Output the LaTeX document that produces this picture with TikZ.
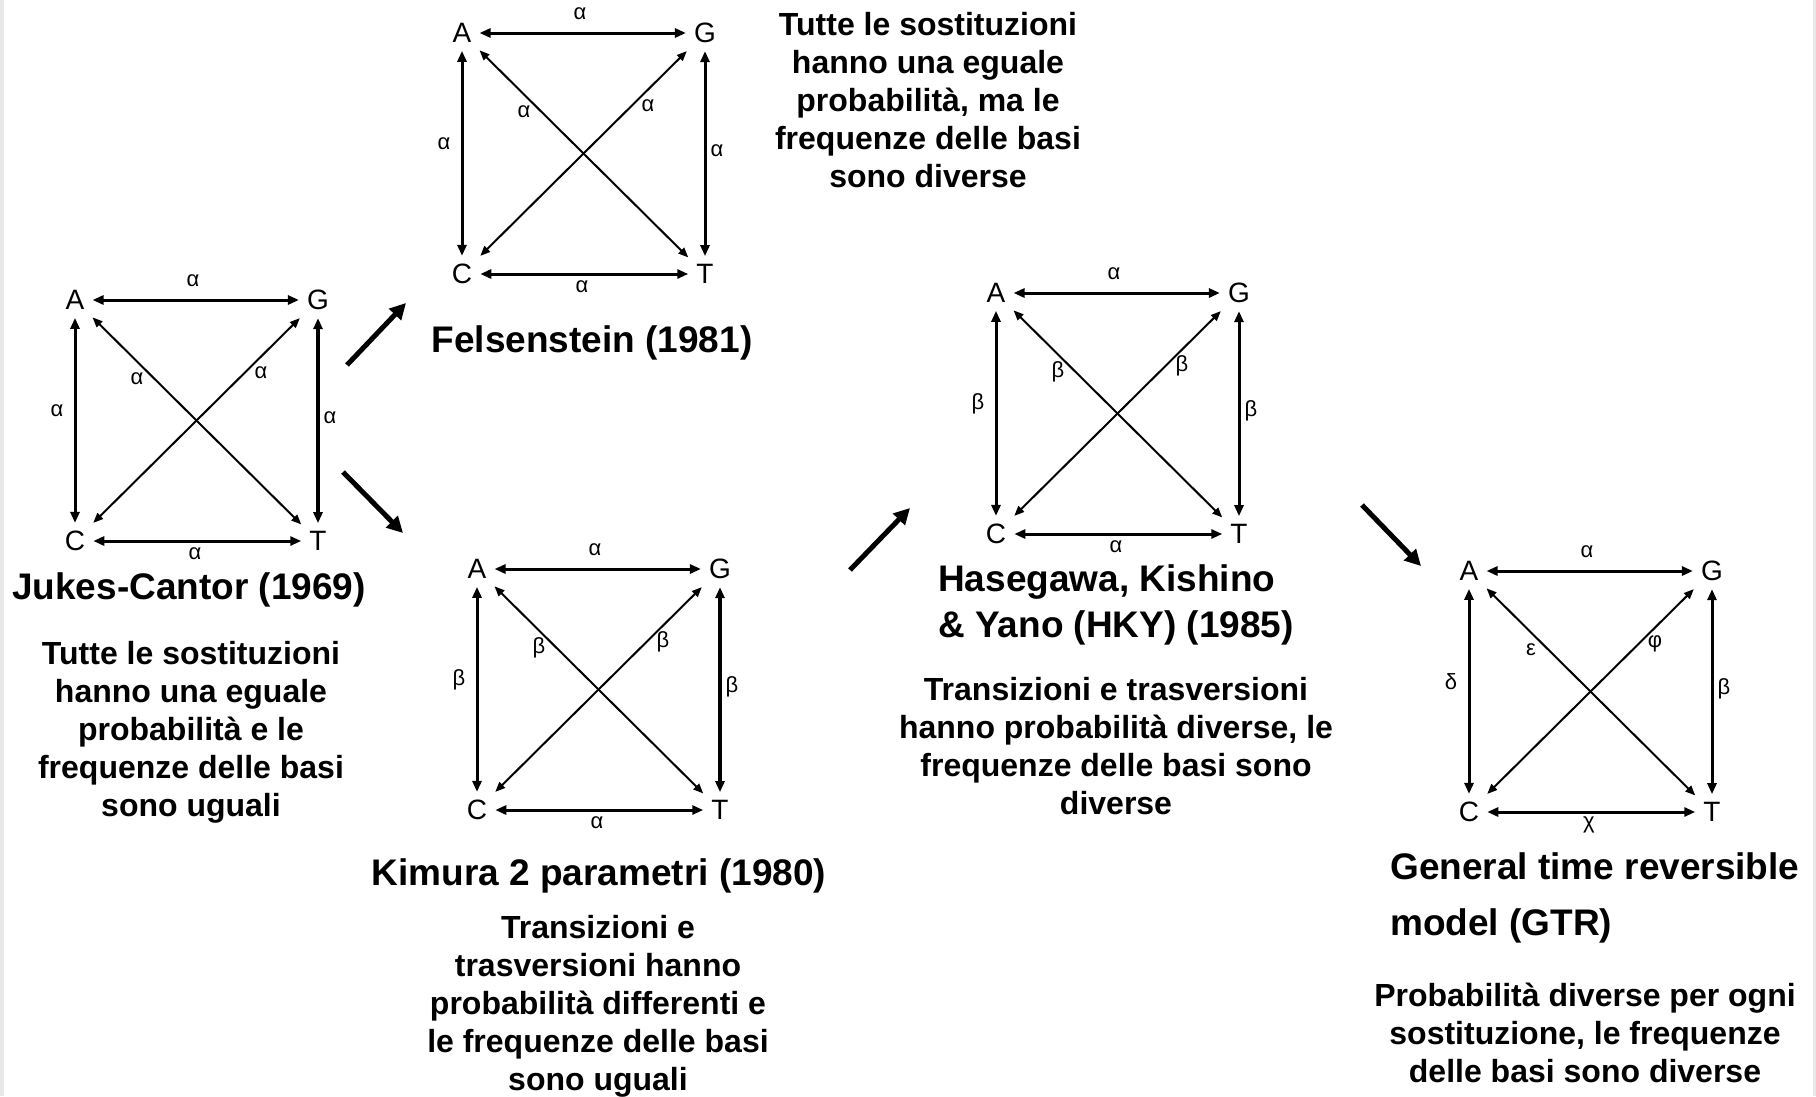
\documentclass[tikz,border=0pt]{standalone}
\usepackage{fontspec}
\setmainfont{Liberation Sans}
\usetikzlibrary{arrows.meta}

\tikzset{
  base/.style={inner sep=8pt, font=\fontsize{28}{28}\selectfont},
  rate/.style={inner sep=0pt, font=\fontsize{22}{22}\selectfont},
  edge/.style={line width=3pt,
    {Triangle[length=11pt,width=9pt]}-{Triangle[length=11pt,width=9pt]}},
  diag/.style={line width=2pt,
    {Triangle[length=10pt,width=8pt]}-{Triangle[length=10pt,width=8pt]}},
  heavy/.style={line width=4.5pt},
  title/.style={font=\fontsize{37}{46}\selectfont\bfseries, inner sep=0pt},
  body/.style={font=\fontsize{32}{38}\selectfont\bfseries, align=center, inner sep=0pt},
  flow/.style={line width=5pt, -{Triangle[length=16pt,width=16pt]}},
}

% One substitution scheme: four bases, six rates.
% #1 prefix, #2 A-G, #3 A-C, #4 G-T, #5 C-T, #6 A-T, #7 C-G, #8 extra style for G-T
\newcommand{\quartet}[8]{%
  \node[base] (#1A) at (0,0) {A};
  \node[base] (#1G) at (243,0) {G};
  \node[base] (#1C) at (0,241) {C};
  \node[base] (#1T) at (243,241) {T};
  \draw[edge] (#1A) -- (#1G);
  \draw[edge] (#1C) -- (#1T);
  \draw[edge] (#1A) -- (#1C);
  \draw[edge,#8] (#1G) -- (#1T);
  \draw[diag] (#1A) -- (#1T);
  \draw[diag] (#1C) -- (#1G);
  \node[rate] (#1ag) at (118,-19) {#2};
  \node[rate] (#1ac) at (-18,111) {#3};
  \node[rate] (#1gt) at (255,118) {#4};
  \node[rate] (#1ct) at (120,254) {#5};
  \node[rate] (#1at) at (62,79) {#6};
  \node[rate] (#1cg) at (186,73) {#7};
}

\begin{document}
\begin{tikzpicture}[x=1pt,y=-1pt]
\useasboundingbox (0,0) rectangle (1816,1096);
\fill[white] (0,0) rectangle (1816,1096);
\fill[gray!18] (0,0) rectangle (4,1096);
\fill[gray!18] (1813,0) rectangle (1816,1096);

% Jukes-Cantor
\begin{scope}[shift={(75,300)}]
  \quartet{jc}{α}{α}{α}{α}{α}{α}{heavy}
\end{scope}
\node[title] (jctitle) at (189,590) {Jukes-Cantor (1969)};
\node[body] (jcbody) at (191,732) {Tutte le sostituzioni\\hanno una eguale\\probabilità e le\\frequenze delle basi\\sono uguali};

% Felsenstein
\begin{scope}[shift={(462,33)}]
  \quartet{fe}{α}{α}{α}{α}{α}{α}{}
\end{scope}
\node[title] (fetitle) at (592,343) {Felsenstein (1981)};
\node[body] (febody) at (928,100) {Tutte le sostituzioni\\hanno una eguale\\probabilità, ma le\\frequenze delle basi\\sono diverse};

% Kimura
\begin{scope}[shift={(477,569)}]
  \quartet{ki}{α}{β}{β}{α}{β}{β}{heavy}
\end{scope}
\node[title] (kititle) at (599,876) {Kimura 2 parametri (1980)};
\node[body] (kibody) at (598,1006) {Transizioni e\\trasversioni hanno\\probabilità differenti e\\le frequenze delle basi\\sono uguali};

% HKY
\begin{scope}[shift={(996,293)}]
  \quartet{hk}{α}{β}{β}{α}{β}{β}{}
\end{scope}
\node[title, anchor=west, align=left] (hktitle) at (938,605) {Hasegawa, Kishino\\\& Yano (HKY) (1985)};
\node[body] (hkbody) at (1116,746) {Transizioni e trasversioni\\hanno probabilità diverse, le\\frequenze delle basi sono\\diverse};

% GTR
\begin{scope}[shift={(1469,571)}]
  \quartet{gt}{α}{δ}{β}{χ}{ε}{φ}{}
\end{scope}
\node[title, anchor=west, align=left, font=\fontsize{37}{56}\selectfont\bfseries] (gttitle) at (1390,898) {General time reversible\\model (GTR)};
\node[body] (gtbody) at (1585,1033) {Probabilità diverse per ogni\\sostituzione, le frequenze\\delle basi sono diverse};

% derivation arrows between models
\coordinate (f1s) at (347,365); \coordinate (f1e) at (406,303);
\coordinate (f2s) at (343,472); \coordinate (f2e) at (403,533);
\coordinate (f3s) at (850,570); \coordinate (f3e) at (910,508);
\coordinate (f4s) at (1362,505); \coordinate (f4e) at (1421,566);
\draw[flow] (f1s) -- (f1e);
\draw[flow] (f2s) -- (f2e);
\draw[flow] (f3s) -- (f3e);
\draw[flow] (f4s) -- (f4e);
\end{tikzpicture}
\end{document}
